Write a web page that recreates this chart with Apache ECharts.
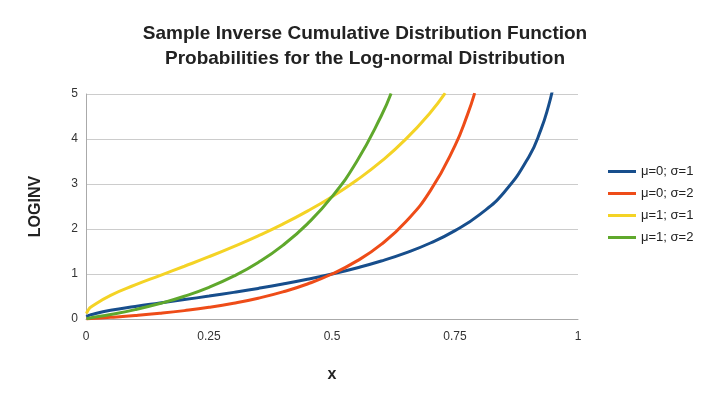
<html><head><meta charset="utf-8"><script src="https://cdn.jsdelivr.net/npm/echarts@6/dist/echarts.min.js"></script></head><body style="margin:0"><div id="c" style="width:720px;height:407px"></div><script>
const names=['μ=0; σ=1','μ=0; σ=2','μ=1; σ=1','μ=1; σ=2'];
const colors=['#174e8c','#ee4c18','#f4d325','#5fa82c'];
const s1=[[0.001,0.046],[0.005,0.076],[0.01,0.098],[0.05,0.193],[0.1,0.278],[0.15,0.355],[0.2,0.431],[0.25,0.509],[0.3,0.592],[0.35,0.68],[0.4,0.776],[0.45,0.882],[0.5,1],[0.55,1.134],[0.6,1.288],[0.65,1.47],[0.7,1.689],[0.75,1.963],[0.8,2.32],[0.85,2.818],[0.9,3.602],[0.925,4.22],[0.94,4.73],[0.95,5.18]];
const s2=[[0.001,0.002],[0.01,0.0096],[0.05,0.037],[0.1,0.077],[0.15,0.126],[0.2,0.186],[0.25,0.259],[0.3,0.35],[0.35,0.462],[0.4,0.602],[0.45,0.778],[0.5,1],[0.55,1.286],[0.6,1.659],[0.65,2.161],[0.7,2.853],[0.75,3.853],[0.775,4.53],[0.79,5.02]];
const s3=[[0.001,0.124],[0.005,0.207],[0.01,0.266],[0.05,0.525],[0.1,0.756],[0.15,0.965],[0.2,1.172],[0.25,1.384],[0.3,1.609],[0.35,1.848],[0.4,2.109],[0.45,2.398],[0.5,2.718],[0.55,3.083],[0.6,3.501],[0.65,3.996],[0.7,4.591],[0.73,5.02]];
const s4=[[0.001,0.006],[0.01,0.026],[0.05,0.101],[0.1,0.209],[0.15,0.343],[0.2,0.506],[0.25,0.704],[0.3,0.951],[0.35,1.256],[0.4,1.636],[0.45,2.115],[0.5,2.718],[0.55,3.496],[0.6,4.51],[0.62,5.01]];
const data=[s1,s2,s3,s4];
const ch=echarts.init(document.getElementById('c'));
ch.setOption({
 title:{text:'Sample Inverse Cumulative Distribution Function\nProbabilities for the Log-normal Distribution',left:360,top:16,textAlign:'center',textStyle:{fontFamily:'Liberation Sans',fontSize:19,fontWeight:'bold',color:'#222',lineHeight:25}},
 legend:{orient:'vertical',left:603,top:160,itemWidth:28,itemHeight:3,itemGap:9,icon:'rect',textStyle:{fontFamily:'Liberation Sans',fontSize:13,color:'#222'},data:names},
 grid:{left:86,right:142,top:94,bottom:88},
 xAxis:{type:'value',min:0,max:1,interval:0.25,name:'x',nameLocation:'middle',nameGap:48,nameTextStyle:{fontFamily:'Liberation Sans',fontSize:16,fontWeight:'bold',color:'#222'},axisLine:{lineStyle:{color:'#aaa'}},axisTick:{show:false},splitLine:{show:false},axisLabel:{color:'#333',fontFamily:'Liberation Sans',fontSize:12,margin:12}},
 yAxis:{type:'value',min:0,max:5,interval:1,name:'LOGINV',nameLocation:'middle',nameGap:42,nameTextStyle:{fontFamily:'Liberation Sans',fontSize:16,fontWeight:'bold',color:'#222'},axisLine:{show:true,lineStyle:{color:'#aaa'}},axisTick:{show:false},splitLine:{lineStyle:{color:'#ccc'}},axisLabel:{color:'#333',fontFamily:'Liberation Sans',fontSize:12}},
 series:data.map((d,i)=>({name:names[i],type:'line',data:d,smooth:true,showSymbol:false,clip:true,lineStyle:{width:3,color:colors[i]},itemStyle:{color:colors[i]}}))
});
</script></body></html>
